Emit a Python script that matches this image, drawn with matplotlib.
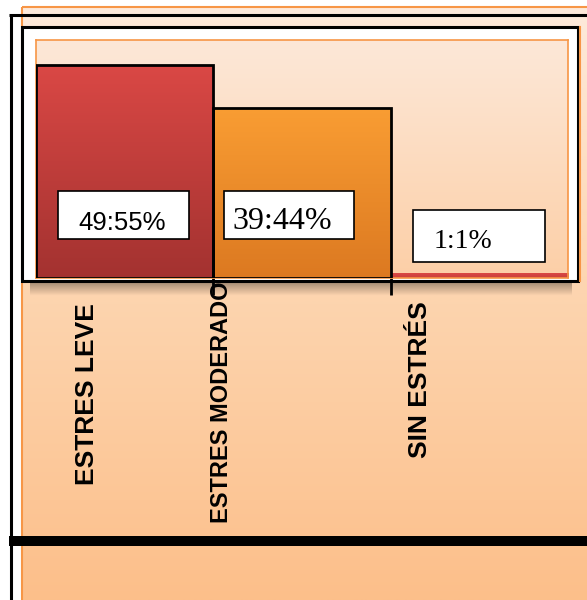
import numpy as np
import matplotlib.pyplot as plt
from matplotlib.colors import LinearSegmentedColormap
from matplotlib.patches import Rectangle
from matplotlib.transforms import blended_transform_factory

categories = ["ESTRES LEVE", "ESTRES MODERADO", "SIN ESTRÉS"]
values = [49.55, 39.44, 1.1]
top_colors = ["#da4845", "#f99d33", "#da4845"]
bottom_colors = ["#a33230", "#dc7921", "#c8403b"]

# label boxes (data coords) and text placement
box_x = [0.124, 1.060, 2.126]
box_w = [0.739, 0.733, 0.744]
box_y = [9.06, 9.06, 3.72]
box_h = [11.15, 11.15, 12.08]
txt_x = [0.485, 1.390, 2.408]
txt_y = [11.15, 11.4, 6.97]
txt_font = [("Liberation Sans", 18.5), ("Liberation Serif", 23), ("Liberation Serif", 20)]

# category label placement (x in data, y in axes fraction)
cat_x = [0.29, 1.045, 2.165]
cat_y = [-0.487, -0.521, -0.429]
cat_size = [19, 17, 19]

fig = plt.figure(figsize=(5.87, 6), dpi=100)

# background drawn in pixel coordinates
bg = fig.add_axes([0, 0, 1, 1], zorder=0)
grad = np.linspace(0, 1, 256).reshape(-1, 1)
cm_bg = LinearSegmentedColormap.from_list("bg", ["#fdeadb", "#fdd4ae", "#fcbf8a"])
bg.imshow(grad, extent=[22, 590, 600, 7], cmap=cm_bg, aspect="auto")
bg.add_patch(Rectangle((22, 7), 570, 600, fill=False, ec="#f79646", lw=1.5))
bg.add_patch(Rectangle((22, 27), 556, 254, fc="white", ec="black", lw=2.2))
bg.plot([579.5, 579.5], [27, 281], color="#f79646", lw=1.5)
# shadow under the baseline
shadow = np.zeros((20, 2, 4))
shadow[:, :, 3] = np.linspace(0.35, 0, 20).reshape(-1, 1)
bg.imshow(shadow, extent=[30, 572, 296, 282], aspect="auto")
bg.plot([10.5, 10.5], [14, 600], color="black", lw=2.2, solid_capstyle="butt")
bg.plot([9, 587], [14.5, 14.5], color="black", lw=2.2, solid_capstyle="butt")
bg.plot([9, 587], [541, 541], color="black", lw=7.2, solid_capstyle="butt")
bg.set_xlim(0, 587)
bg.set_ylim(600, 0)
bg.axis("off")

# plot area
ax = fig.add_axes([36 / 587, 322 / 600, 532 / 587, 238 / 600], zorder=1)
ymax = 55.3
cm_plot = LinearSegmentedColormap.from_list("plot", ["#fde8d8", "#fccfa7"])
ax.imshow(grad, extent=[0, 3, 0, ymax], cmap=cm_plot, aspect="auto", zorder=0)

edges = ["black", "black", "none"]
bars = ax.bar(range(3), values, width=1, align="edge", color="none",
              edgecolor=edges, lw=2, zorder=3)
for i, b in enumerate(bars):
    cm = LinearSegmentedColormap.from_list("b%d" % i, [top_colors[i], bottom_colors[i]])
    im = ax.imshow(grad, extent=[i, i + 1, 0, values[i]], cmap=cm, aspect="auto", zorder=2)
    im.set_clip_path(b)

for i, v in enumerate(values):
    ax.add_patch(Rectangle((box_x[i], box_y[i]), box_w[i], box_h[i],
                           fc="white", ec="black", lw=1.2, zorder=4))
    label = str(v).replace(".", ":") + "%"
    ax.text(txt_x[i], txt_y[i], label, ha="center", va="baseline",
            family=txt_font[i][0], fontsize=txt_font[i][1], zorder=5)

trans = blended_transform_factory(ax.transData, ax.transAxes)
for i, c in enumerate(categories):
    ax.text(cat_x[i], cat_y[i], c, transform=trans, rotation=90, ha="center", va="center",
            family="Liberation Sans", fontweight="bold", fontsize=cat_size[i], clip_on=False)

ax.set_xlim(0, 3)
ax.set_ylim(0, ymax)
ax.set_xticks([1, 2])
ax.set_xticklabels([])
ax.set_yticks([])
ax.tick_params(axis="x", length=12, width=2, color="black")
for s in ax.spines.values():
    s.set_color("#f79646")
    s.set_linewidth(1.2)

fig.savefig("out.png", dpi=100)
